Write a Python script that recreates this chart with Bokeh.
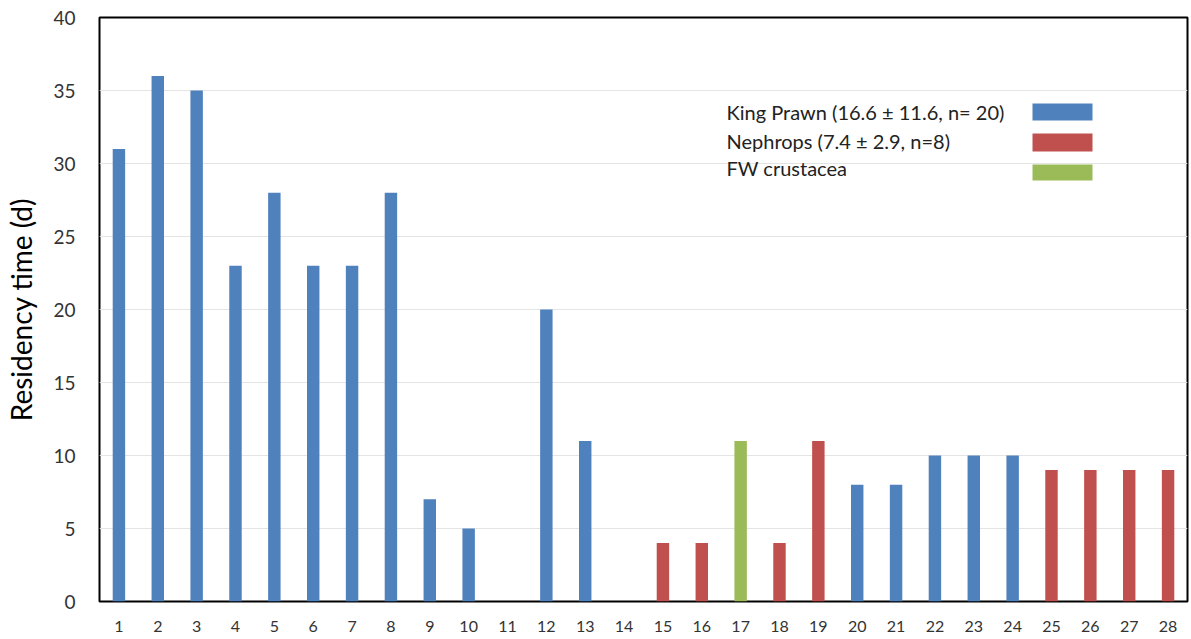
from bokeh.plotting import figure
from bokeh.models import Range1d, FixedTicker, Label, BoxAnnotation, ColumnDataSource
from bokeh.embed import file_html
from bokeh.resources import INLINE

samples = list(range(1, 29))
residency = [31, 36, 35, 23, 28, 23, 23, 28, 7, 5, 0, 20, 11, 0, 4, 4, 11, 4, 11, 8, 8, 10, 10, 10, 9, 9, 9, 9]
group = ["KP"] * 10 + ["KP", "KP", "KP", "KP"] + ["NE", "NE", "FW", "NE", "NE"] + ["KP"] * 5 + ["NE"] * 4
colors_map = {"KP": "#4F81BD", "NE": "#C0504D", "FW": "#9BBB59"}
legend_labels = ["King Prawn (16.6 \u00b1 11.6, n= 20)", "Nephrops (7.4 \u00b1 2.9, n=8)", "FW crustacea"]
legend_keys = ["KP", "NE", "FW"]
y_ticks = [0, 5, 10, 15, 20, 25, 30, 35, 40]

FONT = "Lato"

src = ColumnDataSource(dict(x=samples, top=residency, color=[colors_map[g] for g in group]))

p = figure(width=1191, height=639, output_backend="svg", toolbar_location=None,
           x_range=Range1d(0.5, 28.5), y_range=Range1d(0, 40),
           min_border_left=99, min_border_right=4, min_border_top=17, min_border_bottom=38)

p.vbar(x="x", top="top", width=0.32, fill_color="color", line_color=None, source=src)

p.outline_line_color = "black"
p.outline_line_width = 2
p.xgrid.grid_line_color = None
p.ygrid.grid_line_color = "#e4e4e4"
p.ygrid.grid_line_width = 1

p.xaxis.ticker = FixedTicker(ticks=samples)
p.yaxis.ticker = FixedTicker(ticks=y_ticks)
for ax in (p.xaxis, p.yaxis):
    ax.axis_line_color = None
    ax.major_tick_line_color = None
    ax.minor_tick_line_color = None
    ax.major_label_text_font = FONT
    ax.major_label_text_color = "#333333"
p.xaxis.major_label_text_font_size = "16px"
p.yaxis.major_label_text_font_size = "19px"
p.xaxis.major_label_standoff = 13
p.yaxis.major_label_standoff = 18
p.yaxis.axis_label = "Residency time (d)"
p.yaxis.axis_label_text_font = FONT
p.yaxis.axis_label_text_font_size = "28px"
p.yaxis.axis_label_text_font_style = "normal"
p.yaxis.axis_label_text_color = "black"
p.yaxis.axis_label_standoff = 12

# legend (text left, swatch right), positioned in data space
ppx = 1088 / 28.0
ppy = 584 / 40.0
def dx(px):
    return 0.5 + (px - 99) / ppx
def dy(py):
    return (601 - py) / ppy

text_rows = [111, 140, 167]
swatch_rows = [(103, 120), (133, 151), (164, 180)]
for lbl, key, ty, (st, sb) in zip(legend_labels, legend_keys, text_rows, swatch_rows):
    p.add_layout(Label(x=dx(726), y=dy(ty), text=lbl, text_font=FONT, text_font_size="20px",
                       text_baseline="middle", text_align="left", text_color="#222222"))
    p.add_layout(BoxAnnotation(left=dx(1032), right=dx(1092), top=dy(st), bottom=dy(sb),
                               fill_color=colors_map[key], fill_alpha=1, line_color=None))

open("out.html", "w").write(file_html(p, INLINE))
